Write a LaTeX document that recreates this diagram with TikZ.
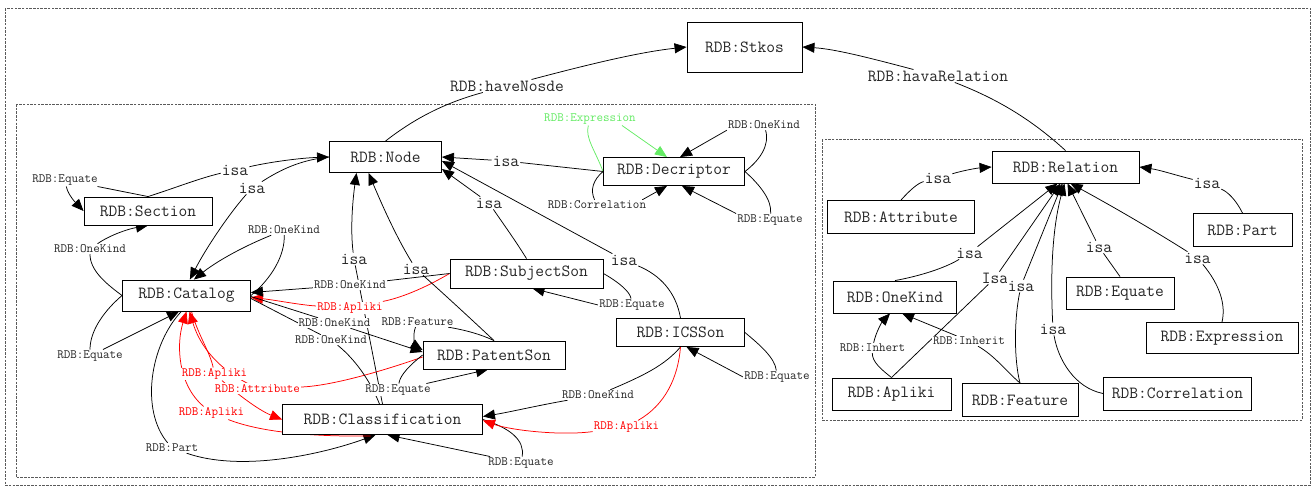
\documentclass[tikz,border=0pt]{standalone}
\usetikzlibrary{arrows.meta,calc}
\pgfdeclarelayer{back}
\pgfsetlayers{back,main}
\newcommand\bigfont{\ttfamily\fontsize{17}{19}\selectfont}
\newcommand\smallfont{\ttfamily\fontsize{12.7}{14}\selectfont}
\definecolor{lgreen}{RGB}{100,235,100}
\definecolor{framegray}{RGB}{90,90,90}
\begin{document}
\begin{tikzpicture}[x=1pt,y=-1pt,
  box/.style={draw, line width=0.9pt, fill=white, font=\bigfont, inner sep=0pt, text=black!85},
  lbl/.style={fill=white, inner sep=1pt, font=\bigfont, text=black!85},
  slbl/.style={fill=white, inner sep=1pt, font=\smallfont, text=black!85},
  rlbl/.style={slbl, text=red},
  glbl/.style={slbl, text=lgreen},
  edge/.style={line width=0.75pt},
  tip/.style={-{Triangle[length=12pt,width=10pt]}},
  frame/.style={draw=framegray, line width=0.7pt, dash pattern=on 2.5pt off 1.2pt}]
\useasboundingbox (0,0) rectangle (1314,488);

% ---------- classes ----------
\node[box, minimum width=115pt, minimum height=50pt] (stk) at (744.5,47) {RDB:Stkos};
\node[box, minimum width=112pt, minimum height=31pt] (nod) at (385.5,157) {RDB:Node};
\node[box, minimum width=128pt, minimum height=28pt] (sec) at (148,211) {RDB:Section};
\node[box, minimum width=128pt, minimum height=31pt] (cat) at (186.5,295.5) {RDB:Catalog};
\node[box, minimum width=141pt, minimum height=28pt] (dec) at (674,171.5) {RDB:Decriptor};
\node[box, minimum width=153pt, minimum height=29pt] (sub) at (526.5,273.5) {RDB:SubjectSon};
\node[box, minimum width=142pt, minimum height=28pt] (pat) at (494,355) {RDB:PatentSon};
\node[box, minimum width=128pt, minimum height=28pt] (ics) at (680.5,332.5) {RDB:ICSSon};
\node[box, minimum width=200pt, minimum height=30pt] (cls) at (382.5,419.5) {RDB:Classification};
\node[box, minimum width=147pt, minimum height=32pt] (rel) at (1065.5,167) {RDB:Relation};
\node[box, minimum width=147pt, minimum height=33pt] (att) at (901,217) {RDB:Attribute};
\node[box, minimum width=99pt, minimum height=33pt] (prt) at (1242.5,230) {RDB:Part};
\node[box, minimum width=123pt, minimum height=32pt] (onk) at (895,297) {RDB:OneKind};
\node[box, minimum width=108pt, minimum height=32pt] (equ) at (1120,293) {RDB:Equate};
\node[box, minimum width=152pt, minimum height=31pt] (exp) at (1222,338) {RDB:Expression};
\node[box, minimum width=119pt, minimum height=32pt] (apl) at (891.5,394) {RDB:Apliki};
\node[box, minimum width=116pt, minimum height=33pt] (fea) at (1020,400) {RDB:Feature};
\node[box, minimum width=148pt, minimum height=33pt] (cor) at (1177.5,393.5) {RDB:Correlation};

% ---------- relation labels ----------
\node[lbl] (lhn) at (507,86) {RDB:haveNosde};
\node[lbl] (lhr) at (938,76) {RDB:havaRelation};
\node[lbl] (i1) at (235,170) {isa};
\node[lbl] (i2) at (252,188) {isa};
\node[lbl] (i3) at (354,259) {isa};
\node[lbl] (i4) at (416,269) {isa};
\node[lbl] (i5) at (489,203) {isa};
\node[lbl] (i6) at (506,161) {isa};
\node[lbl] (i7) at (624,260) {isa};
\node[slbl] (e1) at (65,180) {RDB:Equate};
\node[slbl] (o1) at (90,249) {RDB:OneKind};
\node[slbl] (o2) at (284,230) {RDB:OneKind};
\node[slbl] (e2) at (90,356) {RDB:Equate};
\node[slbl] (p1) at (172,448) {RDB:Part};
\node[slbl] (o3) at (350,285) {RDB:OneKind};
\node[rlbl] (a1) at (350,308) {RDB:Apliki};
\node[slbl] (o4) at (334.5,323) {RDB:OneKind};
\node[slbl] (o5) at (331,340) {RDB:OneKind};
\node[slbl] (f1) at (417.5,322) {RDB:Feature};
\node[slbl] (e3) at (398,390) {RDB:Equate};
\node[rlbl] (at) at (257.5,388.5) {RDB:Attribute};
\node[rlbl] (a2) at (214.5,374) {RDB:Apliki};
\node[rlbl] (a3) at (211.5,413) {RDB:Apliki};
\node[slbl] (e4) at (521,463) {RDB:Equate};
\node[slbl] (o6) at (598,395) {RDB:OneKind};
\node[rlbl] (a4) at (626.5,427) {RDB:Apliki};
\node[slbl] (e5) at (777,377) {RDB:Equate};
\node[slbl] (e6) at (632,305) {RDB:Equate};
\node[glbl] (ex) at (590,119) {RDB:Expression};
\node[slbl] (o7) at (764,125) {RDB:OneKind};
\node[slbl] (c1) at (597,205) {RDB:Correlation};
\node[slbl] (e7) at (770,220) {RDB:Equate};
\node[lbl] (r1) at (938,178) {isa};
\node[lbl] (r2) at (1207,183) {isa};
\node[lbl] (r3) at (969.5,253) {isa};
\node[lbl] (r4) at (995,278) {Isa};
\node[lbl] (r5) at (1021,286) {isa};
\node[lbl] (r6) at (1099,247) {isa};
\node[lbl] (r7) at (1197.5,258) {isa};
\node[lbl] (r8) at (1053,329) {isa};
\node[slbl] (in1) at (872.5,348) {RDB:Inhert};
\node[slbl] (in2) at (969,341) {RDB:Inherit};

\begin{pgfonlayer}{back}
% frames
\draw[frame] (5,8) rectangle (1310,485);
\draw[frame] (16,104) rectangle (815,477);
\draw[frame] (822,139) rectangle (1302,420);

% top level
\draw[edge] (nod.north) .. controls (410,122) and (440,104) .. (lhn);
\draw[edge,tip] (lhn) .. controls (590,64) and (640,52) .. (stk.west);
\draw[edge] (rel.north) .. controls (1030,118) and (995,98) .. (lhr);
\draw[edge,tip] (lhr) .. controls (870,58) and (835,49) .. (stk.east);

% Section / Catalog
\draw[edge] (sec.north) .. controls (175,188) and (200,178) .. (i1);
\draw[edge,tip] (i1) .. controls (270,162) and (300,158) .. (nod.west);
\draw[edge] (nod.west) .. controls (300,160) and (280,170) .. (i2);
\draw[edge,tip] (i2) .. controls (228,215) and (205,250) .. (cat.78);
\draw[edge] (sec.north) -- (e1);
\draw[edge,tip] (e1) .. controls (68,195) and (76,203) .. (sec.west);
\draw[edge] (cat.west) .. controls (105,283) and (90,270) .. (o1);
\draw[edge,tip] (o1) .. controls (110,235) and (128,229) .. (sec.south);
\draw[edge] (cat.east) .. controls (272,278) and (285,255) .. (o2);
\draw[edge,tip] (o2) .. controls (235,250) and (212,265) .. (cat.65);
\draw[edge] (cat.west) .. controls (105,310) and (90,330) .. (e2);
\draw[edge,tip] (e2) -- (cat.245);
\draw[edge] (cat.252) .. controls (150,345) and (140,410) .. (p1);
\draw[edge,tip] (p1) .. controls (240,472) and (320,455) .. ($(cls.south)+(-7,0)$);
\draw[edge] (cls.east) .. controls (510,428) and (525,440) .. (e4);
\draw[edge,tip] (e4) -- ($(cls.south)+(5,0)$);

% red links
\draw[edge,red] ($(pat.west)+(0,2)$) .. controls (380,372) and (330,386) .. (at);
\draw[edge,red,tip] (at) .. controls (212,365) and (198,340) .. ($(cat.south)+(3,0)$);
\draw[edge,red] ($(cat.south)+(5,0)$) .. controls (198,335) and (210,352) .. (a2);
\draw[edge,red,tip] (a2) .. controls (235,392) and (258,410) .. (cls.west);
\draw[edge,red] ($(cls.south)+(-12,1)$) .. controls (300,437) and (255,430) .. (a3);
\draw[edge,red,tip] (a3) .. controls (178,385) and (176,345) .. (cat.south);
\draw[edge,red] (sub.west) .. controls (430,285) and (405,297) .. (a1);
\draw[edge,red,tip] (a1) .. controls (300,305) and (275,300) .. ($(cat.east)+(0,2)$);

% links at Catalog right side
\draw[edge] (sub.west) -- (o3);
\draw[edge,tip] (o3) -- ($(cat.east)+(0,-3)$);
\draw[edge] ($(cat.east)+(0,1)$) -- (o4);
\draw[edge,tip] (o4) -- ($(pat.west)+(0,-3)$);
\draw[edge] ($(cat.east)+(0,3)$) -- (o5);
\draw[edge] (o5) .. controls (350,355) and (368,375) .. ($(cls.north)+(-3,0)$);

% isa links to Node
\draw[edge] (cls.north) -- (i3);
\draw[edge,tip] (i3) .. controls (350,228) and (353,198) .. ($(nod.south)+(-29,0)$);
\draw[edge] (pat.north) .. controls (470,318) and (445,295) .. (i4);
\draw[edge,tip] (i4) .. controls (395,235) and (380,200) .. ($(nod.south)+(-17,0)$);
\draw[edge] (sub.north) .. controls (515,240) and (502,222) .. (i5);
\draw[edge,tip] (i5) -- (nod.-12);
\draw[edge] (ics.north) .. controls (676,292) and (660,275) .. (i7);
\draw[edge,tip] (i7) -- (nod.-4);
\draw[edge] (dec.west) -- (i6);
\draw[edge,tip] (i6) -- (nod.east);

% Decriptor loops
\draw[edge,lgreen] (dec.west) .. controls (595,150) and (585,138) .. (ex);
\draw[edge,lgreen,tip] ($(ex.south east)+(-15,0)$) -- ($(dec.north)+(-7,0)$);
\draw[edge,tip] (o7.south west) -- ($(dec.north)+(6,0)$);
\draw[edge] (dec.east) .. controls (760,160) and (770,145) .. (o7);
\draw[edge] (dec.west) .. controls (593,180) and (590,190) .. (c1);
\draw[edge,tip] ($(c1.north east)+(-5,0)$) -- ($(dec.south)+(-7,0)$);
\draw[edge] (dec.east) .. controls (760,185) and (772,200) .. (e7);
\draw[edge,tip] (e7.north west) -- ($(dec.south)+(8,0)$);

% SubjectSon / ICSSon / PatentSon
\draw[edge] (sub.east) .. controls (620,283) and (630,292) .. (e6);
\draw[edge,tip] (e6.west) -- ($(sub.south)+(6,0)$);
\draw[edge] (ics.east) .. controls (760,345) and (775,358) .. (e5);
\draw[edge,tip] (e5.west) -- ($(ics.south)+(6,0)$);
\draw[edge] (ics.south) .. controls (665,365) and (645,375) .. (o6);
\draw[edge,tip] (o6) .. controls (540,405) and (510,412) .. ($(cls.east)+(0,-3)$);
\draw[edge,red] (ics.south) .. controls (678,378) and (665,405) .. (a4);
\draw[edge,red,tip] (a4) .. controls (560,436) and (510,430) .. ($(cls.east)+(0,1)$);
\draw[edge] (pat.north) .. controls (480,334) and (465,330) .. (f1);
\draw[edge,tip] (f1) .. controls (412,336) and (416,346) .. ($(pat.west)+(0,-5)$);
\draw[edge] (pat.west) .. controls (410,365) and (400,375) .. (e3);
\draw[edge,tip] (e3) -- ($(pat.south)+(-6,0)$);

% relation hierarchy
\draw[edge] (att.north) .. controls (910,190) and (918,183) .. (r1);
\draw[edge,tip] (r1) .. controls (965,170) and (978,168) .. (rel.west);
\draw[edge] (prt.north) .. controls (1236,200) and (1228,192) .. (r2);
\draw[edge,tip] (r2) .. controls (1175,175) and (1160,170) .. (rel.east);
\draw[edge] (onk.north) .. controls (920,276) and (945,268) .. (r3);
\draw[edge,tip] (r3) -- ($(rel.south)+(-8,0)$);
\draw[edge] (apl.north) -- (r4);
\draw[edge,tip] (r4) -- ($(rel.south)+(-5,0)$);
\draw[edge] (fea.north) .. controls (1014,360) and (1014,320) .. (r5);
\draw[edge,tip] (r5) -- ($(rel.south)+(-3,0)$);
\draw[edge] (cor.west) .. controls (1075,388) and (1058,360) .. (r8);
\draw[edge,tip] (r8) .. controls (1050,270) and (1053,225) .. ($(rel.south)+(-1,0)$);
\draw[edge] (equ.north) -- (r6);
\draw[edge,tip] (r6) -- ($(rel.south)+(2,0)$);
\draw[edge] (exp.north) .. controls (1226,305) and (1220,285) .. (r7);
\draw[edge,tip] (r7) .. controls (1150,228) and (1110,205) .. ($(rel.south)+(5,0)$);
\draw[edge] (apl.north) .. controls (882,370) and (872,362) .. (in1);
\draw[edge,tip] (in1) .. controls (876,332) and (882,322) .. ($(onk.south)+(-5,0)$);
\draw[edge] (fea.north) .. controls (1005,370) and (995,356) .. (in2);
\draw[edge,tip] (in2) -- ($(onk.south)+(7,0)$);
\end{pgfonlayer}
\end{tikzpicture}
\end{document}
